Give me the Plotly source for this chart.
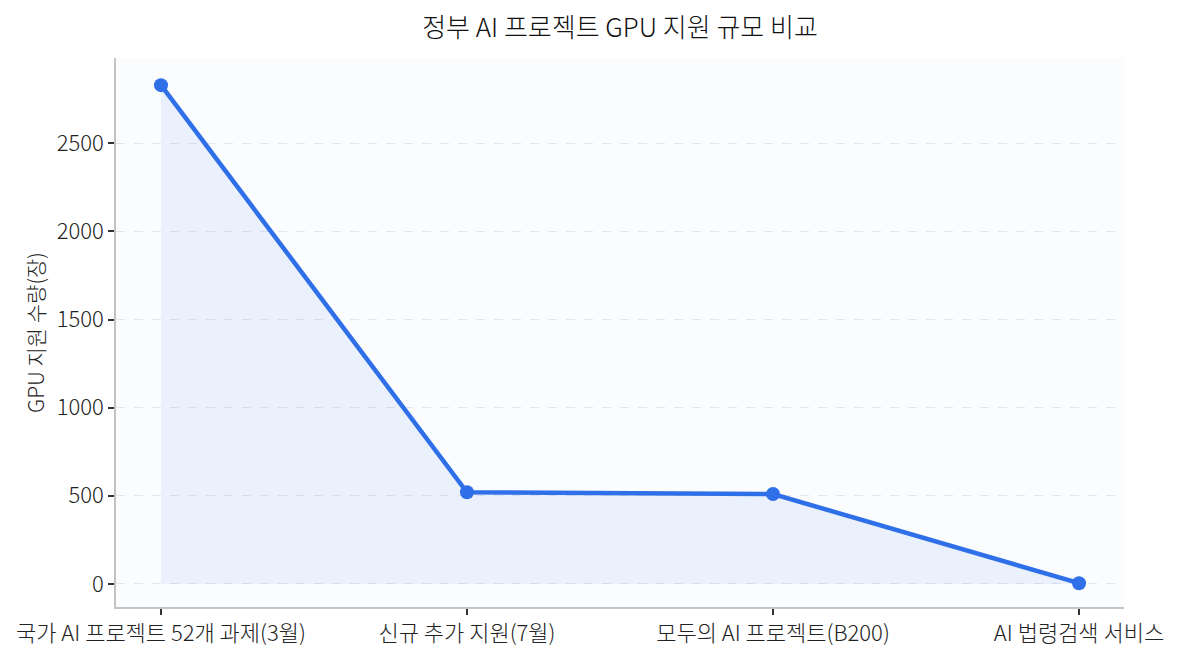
import plotly.graph_objects as go

categories = ["국가 AI 프로젝트 52개 과제(3월)", "신규 추가 지원(7월)", "모두의 AI 프로젝트(B200)", "AI 법령검색 서비스"]
gpu_counts = [2830, 520, 510, 4]
y_ticks = [0, 500, 1000, 1500, 2000, 2500]

font = "Noto Sans CJK KR"
line_color = "#2f6fe8"

fig = go.Figure()
fig.add_trace(go.Scatter(
    x=list(range(len(categories))), y=gpu_counts,
    mode="lines+markers",
    line=dict(color=line_color, width=4.5),
    marker=dict(size=14, color=line_color),
    fill="tozeroy", fillcolor="rgba(47,111,232,0.08)",
    hoverinfo="x+y", showlegend=False,
))

fig.update_layout(
    width=1177, height=660,
    margin=dict(l=116, r=53, t=58, b=53),
    paper_bgcolor="white", plot_bgcolor="#fbfcfe",
    font=dict(family=font, size=22, color="#222", weight=300),
    title=dict(text="정부 AI 프로젝트 GPU 지원 규모 비교", x=0.5, xref="paper", xanchor="center",
               y=0.958, yanchor="middle", font=dict(size=26, color="#111", family=font, weight=300)),
)
fig.update_xaxes(
    tickmode="array", tickvals=list(range(len(categories))), ticktext=categories,
    range=[-0.147, 3.147], showgrid=False, zeroline=False,
    showline=True, linecolor="#c4c4c4", linewidth=1.5,
    ticks="outside", ticklen=6, tickcolor="#333", tickwidth=1.5,
    tickfont=dict(size=22, color="#222", family=font, weight=300),
)
fig.update_yaxes(
    tickmode="array", tickvals=y_ticks,
    range=[-131, 2984], showgrid=True, gridcolor="rgba(200,205,220,0.45)", griddash="dash", gridwidth=1,
    zeroline=False, showline=True, linecolor="#c4c4c4", linewidth=1.5,
    ticks="outside", ticklen=6, tickcolor="#333", tickwidth=1.5,
    tickfont=dict(size=22, color="#222", family=font, weight=300),
    title=dict(text="GPU 지원 수량(장)", font=dict(size=21, color="#222", family=font, weight=300), standoff=6),
)

fig.write_html("out.html")
